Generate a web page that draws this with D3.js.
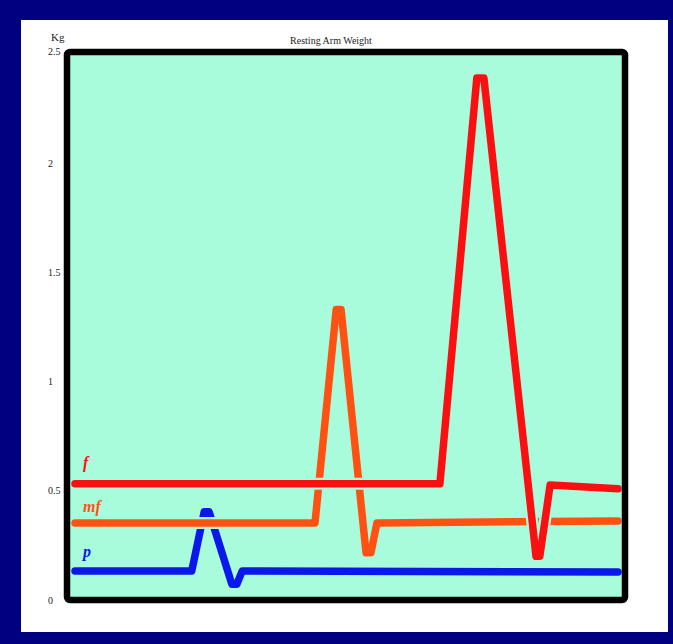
<!DOCTYPE html>
<html>
<head>
<meta charset="utf-8">
<script src="https://cdn.jsdelivr.net/npm/d3@7"></script>
<style>
  html, body { margin: 0; padding: 0; background: #000080; }
  svg { display: block; }
</style>
</head>
<body>
<div id="chart"></div>
<script>
// sample position (0..100) and resting arm weight (kg) for each series
const fX  = [0, 67.2, 74.0, 75.3, 84.9, 85.6, 87.5, 100];
const fY  = [0.532, 0.532, 2.39, 2.39, 0.2, 0.2, 0.527, 0.509];
const mfX = [0, 44.2, 48.1, 49.0, 53.6, 54.5, 55.6, 100];
const mfY = [0.353, 0.353, 1.33, 1.33, 0.216, 0.216, 0.353, 0.362];
const pX  = [0, 21.5, 23.8, 24.7, 28.9, 29.8, 30.8, 100];
const pY  = [0.133, 0.133, 0.404, 0.404, 0.072, 0.072, 0.133, 0.128];
const yTicks = [0, 0.5, 1, 1.5, 2, 2.5];

const W = 673, H = 644;
const bg = "#a8fcdc";
const colors = { f: "#fa1010", mf: "#ff5212", p: "#0a18ea" };
const labelDy = { f: -16, mf: -11, p: -14 };

const series = [
  { key: "p",  xs: pX,  ys: pY },
  { key: "mf", xs: mfX, ys: mfY },
  { key: "f",  xs: fX,  ys: fY }
].map(s => ({ key: s.key, values: s.xs.map((x, i) => ({ x: x, v: s.ys[i] })) }));

const frame = { left: 67, right: 625, top: 52, bottom: 600 };

const x = d3.scaleLinear().domain([0, 100]).range([75, 618]);
const y = d3.scaleLinear().domain([0, 2.5]).range([600, 54]);

const svg = d3.select("#chart").append("svg")
    .attr("width", W)
    .attr("height", H);

// white page inside the navy border
svg.append("rect")
    .attr("x", 21).attr("y", 20)
    .attr("width", 647).attr("height", 612)
    .attr("fill", "#fff");

// plot background
svg.append("rect")
    .attr("x", frame.left).attr("y", frame.top)
    .attr("width", frame.right - frame.left)
    .attr("height", frame.bottom - frame.top)
    .attr("fill", bg);

const line = d3.line()
    .x(d => x(d.x))
    .y(d => y(d.v));

// each line gets a thin background-coloured halo so later lines break earlier ones
const g = svg.append("g");
series.forEach(s => {
    g.append("path")
        .attr("d", line(s.values))
        .attr("fill", "none")
        .attr("stroke", bg)
        .attr("stroke-width", 12)
        .attr("stroke-linecap", "round")
        .attr("stroke-linejoin", "round");
    g.append("path")
        .attr("class", "line line-" + s.key)
        .attr("d", line(s.values))
        .attr("fill", "none")
        .attr("stroke", colors[s.key])
        .attr("stroke-width", 7.5)
        .attr("stroke-linecap", "round")
        .attr("stroke-linejoin", "round");
});

// frame outline on top
svg.append("rect")
    .attr("x", frame.left).attr("y", frame.top)
    .attr("width", frame.right - frame.left)
    .attr("height", frame.bottom - frame.top)
    .attr("rx", 3)
    .attr("fill", "none")
    .attr("stroke", "#000")
    .attr("stroke-width", 6.5);

// y tick labels
svg.selectAll(".ylab")
    .data(yTicks)
    .enter().append("text")
    .attr("class", "ylab")
    .attr("x", 48)
    .attr("y", d => y(d) - (d === 2.5 ? 3 : 0))
    .attr("dy", "0.35em")
    .style("font-family", "'Liberation Serif', serif")
    .style("font-size", "10px")
    .style("fill", "#222")
    .text(d => d);

svg.append("text")
    .attr("x", 51).attr("y", 41)
    .style("font-family", "'Liberation Serif', serif")
    .style("font-size", "11px")
    .style("fill", "#222")
    .text("Kg");

svg.append("text")
    .attr("x", 331).attr("y", 44)
    .attr("text-anchor", "middle")
    .style("font-family", "'Liberation Serif', serif")
    .style("font-size", "10px")
    .style("fill", "#222")
    .text("Resting Arm Weight");

// series labels above the start of each line
svg.selectAll(".slab")
    .data(series)
    .enter().append("text")
    .attr("class", "slab")
    .attr("x", 83)
    .attr("y", d => y(d.values[0].v) + labelDy[d.key])
    .style("font-family", "'Liberation Serif', serif")
    .style("font-size", "16px")
    .style("font-weight", "bold")
    .style("font-style", "italic")
    .style("fill", d => colors[d.key])
    .text(d => d.key);
</script>
</body>
</html>
